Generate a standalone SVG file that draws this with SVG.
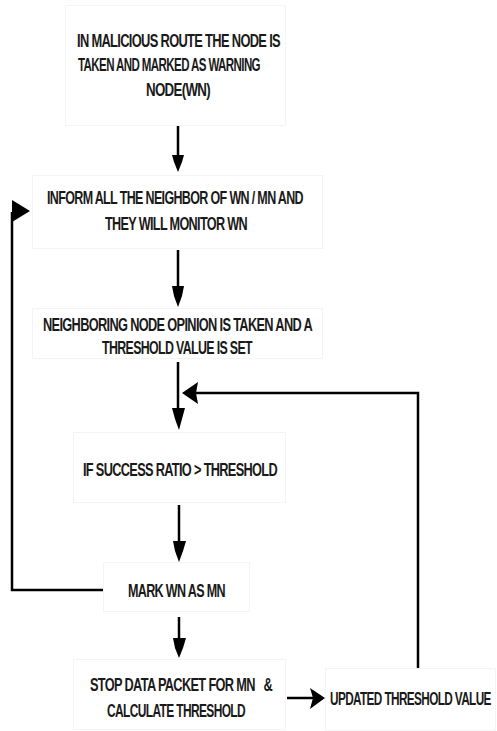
<svg xmlns="http://www.w3.org/2000/svg" width="497" height="731" viewBox="0 0 497 731">
<style>
.box{fill:#ffffff;stroke:#f4f4f4;stroke-width:1}
.t{font-family:"Liberation Sans",Arial,sans-serif;font-size:19px;font-weight:bold;fill:#1a1a1a;letter-spacing:-1px}
.ln{fill:none;stroke:#000;stroke-width:2.5}
</style>
<rect width="497" height="731" fill="#fff"/>
<g id="n1">
<rect class="box" x="65.5" y="5.5" width="220" height="120"/>
<text class="t" x="77" y="47" textLength="203" lengthAdjust="spacingAndGlyphs">IN MALICIOUS ROUTE THE NODE IS</text>
<text class="t" x="78" y="71" textLength="182" lengthAdjust="spacingAndGlyphs">TAKEN AND MARKED AS WARNING</text>
<text class="t" x="146" y="96" textLength="64" lengthAdjust="spacingAndGlyphs">NODE(WN)</text>
</g>
<g id="n2">
<rect class="box" x="32.5" y="175.5" width="290" height="73"/>
<text class="t" x="47" y="204" textLength="256" lengthAdjust="spacingAndGlyphs">INFORM ALL THE NEIGHBOR OF WN / MN AND</text>
<text class="t" x="105" y="230" textLength="142" lengthAdjust="spacingAndGlyphs">THEY WILL MONITOR WN</text>
</g>
<g id="n3">
<rect class="box" x="32.5" y="308.5" width="290" height="50"/>
<text class="t" x="43" y="331" textLength="269" lengthAdjust="spacingAndGlyphs">NEIGHBORING NODE OPINION IS TAKEN AND A</text>
<text class="t" x="102" y="354" textLength="150" lengthAdjust="spacingAndGlyphs">THRESHOLD VALUE IS SET</text>
</g>
<g id="n4">
<rect class="box" x="73.5" y="432.5" width="212" height="70"/>
<text class="t" x="83" y="476" textLength="194" lengthAdjust="spacingAndGlyphs">IF SUCCESS RATIO &gt; THRESHOLD</text>
</g>
<g id="n5">
<rect class="box" x="103.5" y="562.5" width="146" height="49"/>
<text class="t" x="128" y="597" textLength="97" lengthAdjust="spacingAndGlyphs">MARK WN AS MN</text>
</g>
<g id="n6">
<rect class="box" x="73.5" y="659.5" width="212" height="70"/>
<text class="t" x="90" y="691" textLength="182" lengthAdjust="spacingAndGlyphs" xml:space="preserve">STOP DATA PACKET FOR MN   &amp;</text>
<text class="t" x="107" y="717" textLength="138" lengthAdjust="spacingAndGlyphs">CALCULATE THRESHOLD</text>
</g>
<g id="n7">
<rect class="box" x="325.5" y="668.5" width="170" height="62"/>
<text class="t" transform="translate(330,705) scale(0.6,1)" x="0" y="0" textLength="268" lengthAdjust="spacingAndGlyphs">UPDATED THRESHOLD VALUE</text>
</g>
<g id="connectors">
<path class="ln" d="M178,126 V158"/>
<path d="M172,155 L184,155 L182,162 L178,172 L174,162 Z" fill="#000"/>
<path class="ln" d="M178,250 V290"/>
<path d="M172,286 L184,286 L182,296 L178,307 L174,296 Z" fill="#000"/>
<path class="ln" d="M178,362 V412"/>
<path d="M172,408 L185,408 L182,419 L179,430 L175,419 Z" fill="#000"/>
<path class="ln" d="M418,668 V393 H195"/>
<path d="M182,393 L198,382 L196,393 L198,404 Z" fill="#000"/>
<path class="ln" d="M179,505 V545"/>
<path d="M173,541 L186,541 L183,551 L179,562 L175,551 Z" fill="#000"/>
<path class="ln" d="M103,590 H12 V212"/>
<path d="M12,200 L30,211 L12,222 Z" fill="#000"/>
<path class="ln" d="M179,617 V642"/>
<path d="M173,638 L186,638 L183,648 L179,658 L175,648 Z" fill="#000"/>
<path class="ln" d="M287,698 H314"/>
<path d="M310,688 L325,698 L310,709 L313,698 Z" fill="#000"/>
</g>
</svg>
